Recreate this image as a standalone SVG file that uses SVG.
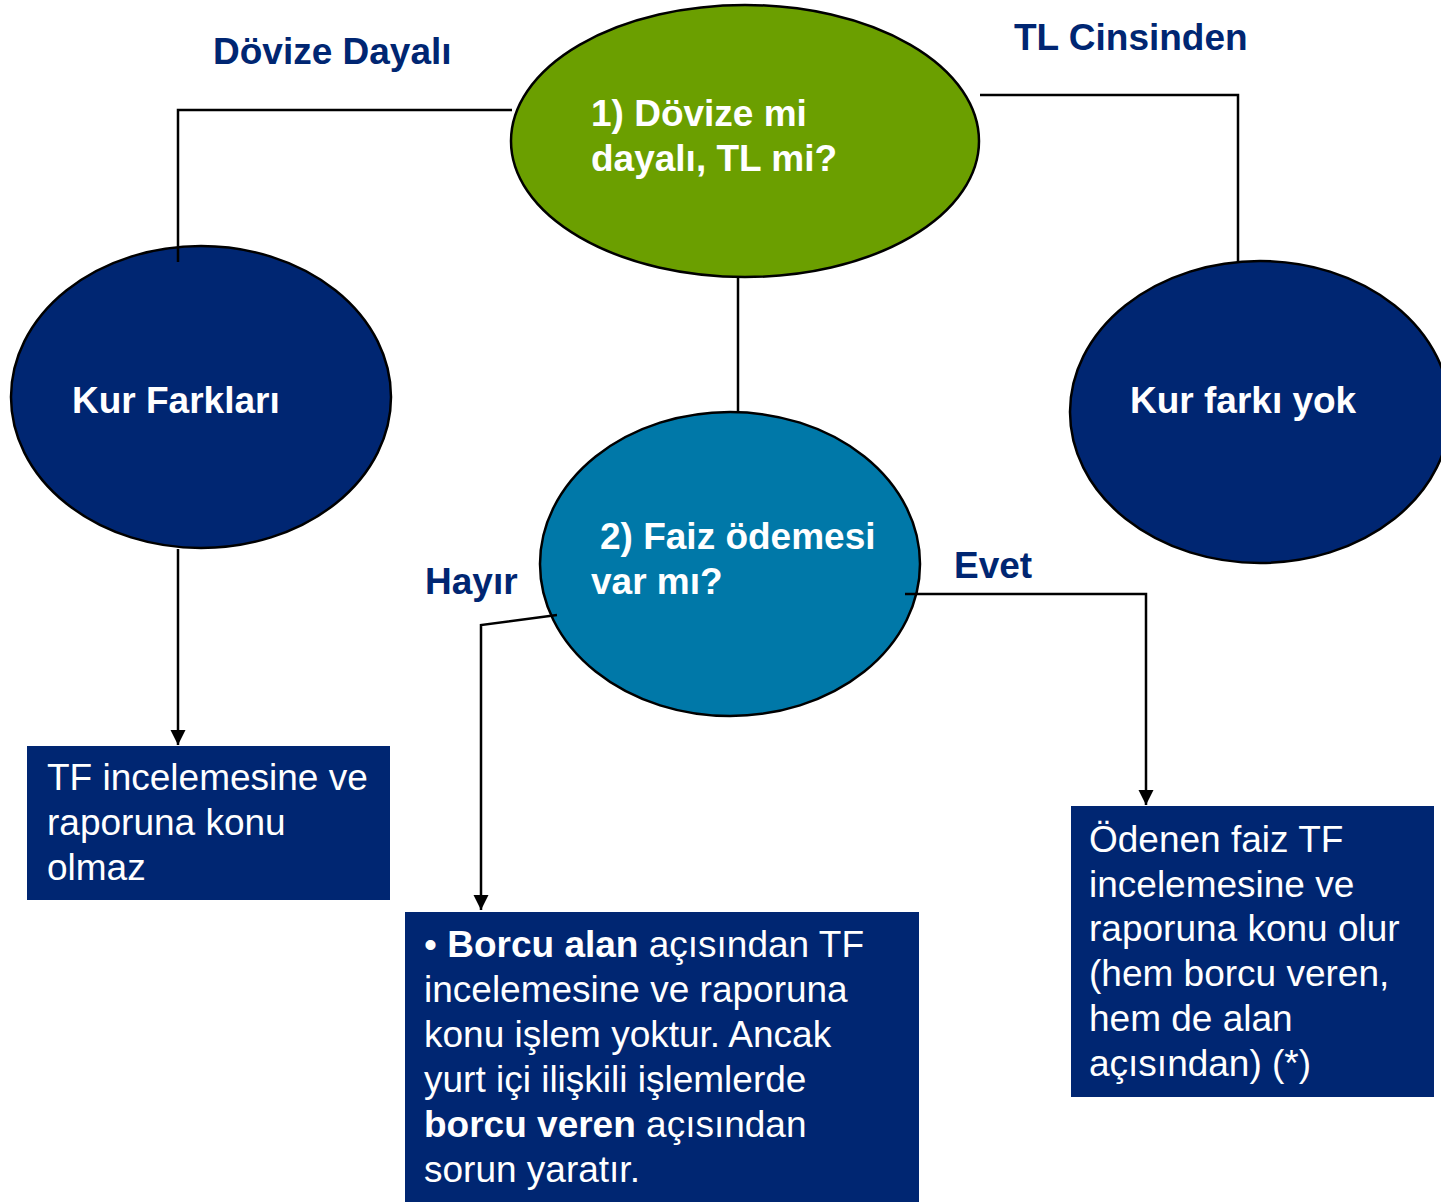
<svg xmlns="http://www.w3.org/2000/svg" width="1441" height="1202" viewBox="0 0 1441 1202">
<style>
.n{stroke:#000;stroke-width:2.5}
.c{fill:none;stroke:#000;stroke-width:2.5}
.lbl{font-family:"Liberation Sans",Arial,sans-serif;font-size:37px;font-weight:bold;fill:#002672}
.wb{font-family:"Liberation Sans",Arial,sans-serif;font-size:37px;font-weight:bold;fill:#fff}
.w{font-family:"Liberation Sans",Arial,sans-serif;font-size:37px;fill:#fff}
.b{font-weight:bold}
</style>
<defs>
<marker id="ah" viewBox="0 0 10 10" refX="10" refY="5" markerWidth="6" markerHeight="6.5" markerUnits="strokeWidth" orient="auto">
<path d="M0,0 L10,5 L0,10 Z" fill="#000"/>
</marker>
</defs>
<g id="label-dovize">
<text class="lbl" x="213" y="64">Dövize Dayalı</text>
</g>
<g id="label-tl">
<text class="lbl" x="1014" y="50">TL Cinsinden</text>
</g>
<g id="label-hayir">
<text class="lbl" x="425" y="594">Hayır</text>
</g>
<g id="label-evet">
<text class="lbl" x="954" y="578">Evet</text>
</g>
<g id="node-q1">
<ellipse class="n" cx="745" cy="141" rx="234" ry="136" fill="#6B9F00"/>
<text class="wb" x="591" y="126">1) Dövize mi</text>
<text class="wb" x="591" y="171">dayalı, TL mi?</text>
</g>
<g id="node-kur-farklari">
<ellipse class="n" cx="201" cy="397" rx="190" ry="151" fill="#002672"/>
<text class="wb" x="72" y="413">Kur Farkları</text>
</g>
<g id="node-kur-farki-yok">
<ellipse class="n" cx="1260" cy="412" rx="190" ry="151" fill="#002672"/>
<text class="wb" x="1130" y="413">Kur farkı yok</text>
</g>
<g id="node-q2">
<ellipse class="n" cx="730" cy="564" rx="190" ry="152" fill="#0078A8"/>
<text class="wb" x="600" y="549">2) Faiz ödemesi</text>
<text class="wb" x="591" y="594">var mı?</text>
</g>
<g id="box-left">
<rect x="27" y="746" width="363" height="154" fill="#002672"/>
<text class="w" x="47" y="790">TF incelemesine ve</text>
<text class="w" x="47" y="835">raporuna konu</text>
<text class="w" x="47" y="880">olmaz</text>
</g>
<g id="box-bottom">
<rect x="405" y="912" width="514" height="290" fill="#002672"/>
<text class="w" x="424" y="957">• <tspan class="b">Borcu alan</tspan> açısından TF</text>
<text class="w" x="424" y="1002">incelemesine ve raporuna</text>
<text class="w" x="424" y="1047">konu işlem yoktur. Ancak</text>
<text class="w" x="424" y="1092">yurt içi ilişkili işlemlerde</text>
<text class="w" x="424" y="1137"><tspan class="b">borcu veren</tspan> açısından</text>
<text class="w" x="424" y="1182">sorun yaratır.</text>
</g>
<g id="box-right">
<rect x="1071" y="806" width="363" height="291" fill="#002672"/>
<text class="w" x="1089" y="852">Ödenen faiz TF</text>
<text class="w" x="1089" y="897">incelemesine ve</text>
<text class="w" x="1089" y="941">raporuna konu olur</text>
<text class="w" x="1089" y="986">(hem borcu veren,</text>
<text class="w" x="1089" y="1031">hem de alan</text>
<text class="w" x="1089" y="1076">açısından) (*)</text>
</g>
<g id="connectors">
<polyline class="c" points="512,110 178,110 178,262"/>
<polyline class="c" points="980,95 1238,95 1238,262"/>
<line class="c" x1="738" y1="277" x2="738" y2="412"/>
<line class="c" x1="178" y1="549" x2="178" y2="745" marker-end="url(#ah)"/>
<polyline class="c" points="557,615 481,625 481,910" marker-end="url(#ah)"/>
<polyline class="c" points="905,594 1146,594 1146,805" marker-end="url(#ah)"/>
</g>
</svg>
